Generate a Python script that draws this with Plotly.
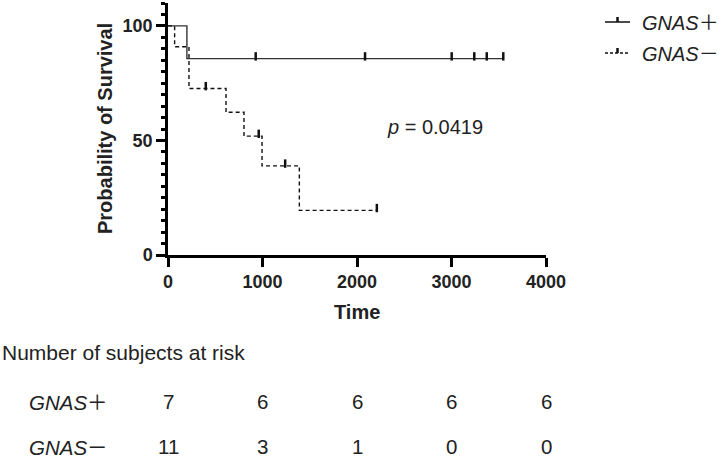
import plotly.graph_objects as go

# ---- data ----
pos_event_times = [200]
pos_event_surv = [85.7]
pos_censor_times = [928, 2085, 3002, 3241, 3373, 3548]

neg_event_times = [70, 222, 614, 804, 995, 1390]
neg_event_surv = [90.9, 72.7, 62.3, 51.9, 38.9, 19.5]
neg_censor_times = [400, 960, 1240, 2210]

risk_times = [0, 1000, 2000, 3000, 4000]
risk_pos = [7, 6, 6, 6, 6]
risk_neg = [11, 3, 1, 0, 0]

CJK = "font-family:'Noto Sans CJK SC'"
group_labels = [f"<i>GNAS</i><span style=\"{CJK}\">＋</span>",
                f"<i>GNAS</i><span style=\"{CJK}\">－</span>"]
p_text = "<i>p</i> = 0.0419"
x_ticks = [0, 1000, 2000, 3000, 4000]
y_ticks = [0, 50, 100]

FONT = "Arial, 'Liberation Sans', sans-serif"
W, H = 725, 460
L, R, T, B = 168, 179, 3, 205
PW, PH = W - L - R, H - T - B


def xp(px):
    return (px - L) / PW


def yp(py):
    return (H - B - py) / PH


def step_line(times, surv, end):
    xs = [0] + list(times) + [end]
    ys = [100] + list(surv) + [surv[-1]]
    return xs, ys


def surv_at(times, surv, t):
    v = 100
    for et, s in zip(times, surv):
        if et <= t:
            v = s
    return v


fig = go.Figure()

groups = [
    (pos_event_times, pos_event_surv, pos_censor_times, "#333", "solid"),
    (neg_event_times, neg_event_surv, neg_censor_times, "#111", "4px,3px"),
]
for (et, es, ct, col, dash), name in zip(groups, group_labels):
    xs, ys = step_line(et, es, max(ct))
    fig.add_trace(go.Scatter(x=xs, y=ys, mode="lines", line_shape="hv",
                             line=dict(color=col, width=1.4, dash=dash),
                             name=name, showlegend=False, hoverinfo="skip"))
    cy = [surv_at(et, es, t) + 1.0 for t in ct]
    fig.add_trace(go.Scatter(x=ct, y=cy, mode="markers",
                             marker=dict(symbol="line-ns", size=6,
                                         line=dict(color="#111", width=2.5)),
                             showlegend=False, hoverinfo="skip"))

axis_common = dict(showline=True, linewidth=2.5, linecolor="black",
                   ticks="outside", ticklen=9, tickwidth=2.5, tickcolor="black",
                   showgrid=False, zeroline=False,
                   tickfont=dict(family=FONT, size=18, color="#222", weight="bold"))

fig.update_xaxes(range=[0, 4000], tickvals=x_ticks, **axis_common)
fig.update_yaxes(range=[0, 110], tickvals=y_ticks,
                 minor=dict(dtick=5, ticks="outside", ticklen=4.5, tickwidth=2.5,
                            tickcolor="black", showgrid=False),
                 **axis_common)

ann = []
# axis titles
ann.append(dict(text="<b>Time</b>", x=0.5, y=yp(312), xref="paper", yref="paper",
                showarrow=False, font=dict(family=FONT, size=20, color="#222"),
                xanchor="center", yanchor="middle"))
ann.append(dict(text="<b>Probability of Survival</b>", x=xp(105), y=0.5, xref="paper",
                yref="paper", showarrow=False, textangle=-90,
                font=dict(family=FONT, size=20, color="#222"),
                xanchor="center", yanchor="middle"))
# p value
ann.append(dict(text=p_text, x=xp(385), y=yp(127), xref="paper", yref="paper",
                showarrow=False, font=dict(family=FONT, size=20, color="#222"),
                xanchor="left", yanchor="middle"))
# legend text
for lab, py in zip(group_labels, [22, 53]):
    ann.append(dict(text=lab, x=xp(640), y=yp(py), xref="paper", yref="paper",
                    showarrow=False, font=dict(family=FONT, size=20, color="#222"),
                    xanchor="left", yanchor="middle"))
# risk table
ann.append(dict(text="Number of subjects at risk", x=xp(0), y=yp(352), xref="paper",
                yref="paper", showarrow=False,
                font=dict(family=FONT, size=21, color="#222"),
                xanchor="left", yanchor="middle"))
for lab, vals, py in zip(group_labels, [risk_pos, risk_neg], [401, 446]):
    ann.append(dict(text=lab, x=xp(27), y=yp(py), xref="paper", yref="paper",
                    showarrow=False, font=dict(family=FONT, size=20.5, color="#222"),
                    xanchor="left", yanchor="middle"))
    for t, v in zip(risk_times, vals):
        ann.append(dict(text=str(v), x=t, y=yp(py), xref="x", yref="paper",
                        showarrow=False, font=dict(family=FONT, size=20.5, color="#222"),
                        xanchor="center", yanchor="middle"))

shapes = []
for py, dash in [(22, "solid"), (53, "dot")]:
    shapes.append(dict(type="line", xref="paper", yref="paper",
                       x0=xp(605), x1=xp(630), y0=yp(py), y1=yp(py),
                       line=dict(color="#111", width=1.5,
                                 dash="solid" if dash == "solid" else "3px,2px")))
    shapes.append(dict(type="line", xref="paper", yref="paper",
                       x0=xp(617.5), x1=xp(617.5), y0=yp(py), y1=yp(py - 5),
                       line=dict(color="#111", width=2.5)))

fig.update_layout(width=W, height=H, margin=dict(l=L, r=R, t=T, b=B),
                  plot_bgcolor="white", paper_bgcolor="white",
                  annotations=ann, shapes=shapes, showlegend=False)

fig.write_html("out.html", config={"displayModeBar": False},
               post_script="document.body.style.margin='0';document.body.style.overflow='hidden';")
